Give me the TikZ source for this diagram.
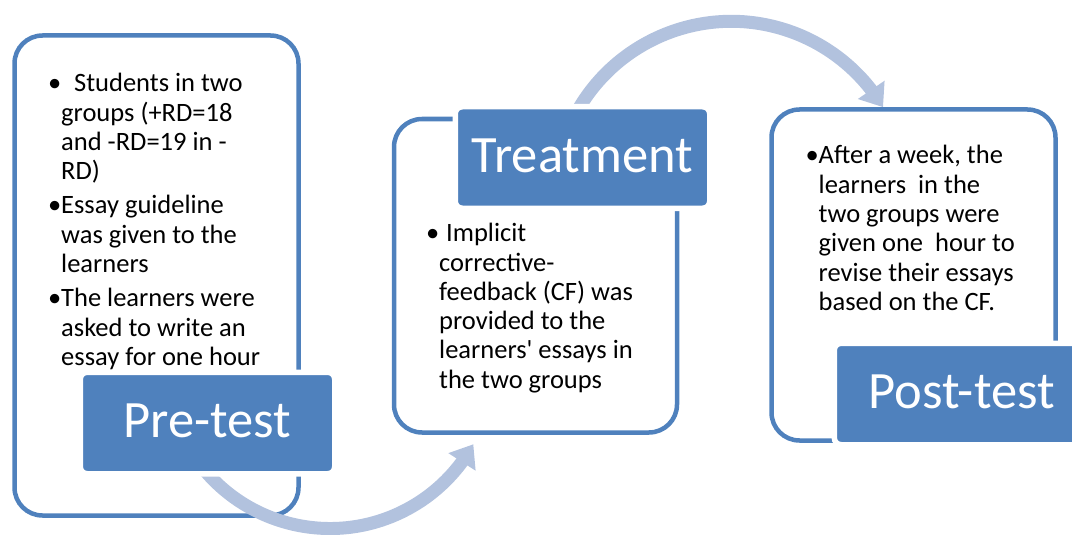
\documentclass[tikz,border=0pt]{standalone}
\usepackage{fontspec}
\setmainfont{Carlito}
\usetikzlibrary{arrows.meta,bending,positioning}
\definecolor{stageblue}{RGB}{79,129,189}
\definecolor{stagearc}{RGB}{178,194,222}

\begin{document}
\begin{tikzpicture}[x=1pt,y=-1pt,
    stagebox/.style={draw=stageblue,line width=4.5pt,rounded corners=28pt,
                     inner sep=0pt,minimum width=284pt},
    stagelabel/.style={draw=white,line width=5.5pt,fill=stageblue,
                       rounded corners=7pt,inner sep=0pt,text=white,
                       minimum width=254.5pt,minimum height=101.5pt,
                       text depth=4pt,
                       font=\fontsize{52.5}{62}\selectfont},
    stagetext/.style={anchor=base west,inner sep=0pt,
                      font=\fontsize{26.5}{29.3}\selectfont},
    stagearrow/.style={stagearc,line width=13pt,
                       -{Triangle[length=21pt,width=31pt]}}]
  \useasboundingbox (0,0) rectangle (1072,535);
  \clip (0,0) rectangle (1072,535);
  % outlines of the three stages
  \node[stagebox,minimum height=480pt] (box1) at (156.5,275.5) {};
  \node[stagebox,minimum width=283pt,minimum height=313.5pt]
       (box2) at (535.5,275.75) {};
  \node[stagebox,minimum height=331pt] (box3) at (913.5,275) {};
  % bent arrows between the stages
  \coordinate (arcA) at (188.0,446.5);
  \coordinate (arcB) at (565.0,137.8);
  \draw[stagearrow] (arcA) arc[start angle=150,end angle=29.1,radius=164];
  \draw[stagearrow] (arcB) arc[start angle=200,end angle=329,radius=177];
  % stage names
  \node[stagelabel] (pretest) at (207.5,423) {Pre-test};
  \node[stagelabel] (treatment) at (582.5,157.5) {Treatment};
  \node[stagelabel] (posttest) at (961.5,394) {Post-test};
  % bullet texts
  \node[stagetext] (pretxt) at (61,91.7) {\parbox[t]{235pt}{%
    \leavevmode\llap{\textbullet}\hspace{13pt}Students in two\\
    groups (+RD=18\\
    and -RD=19 in -\\
    RD)\\[5pt]
    \llap{\textbullet}Essay guideline\\
    was given to the\\
    learners\\[5pt]
    \llap{\textbullet}The learners were\\
    asked to write an\\
    essay for one hour}};
  \node[stagetext] (treattxt) at (439,241.7) {\parbox[t]{235pt}{%
    \leavevmode\llap{\textbullet}\hspace{7pt}Implicit\\
    corrective-\\
    feedback (CF) was\\
    provided to the\\
    learners\textquotesingle{} essays in\\
    the two groups}};
  \node[stagetext] (posttxt) at (818.5,164) {\parbox[t]{235pt}{%
    \leavevmode\llap{\textbullet}After a week, the\\
    learners\ \ in the\\
    two groups were\\
    given one\ \ hour to\\
    revise their essays\\
    based on the CF.}};
\end{tikzpicture}
\end{document}
